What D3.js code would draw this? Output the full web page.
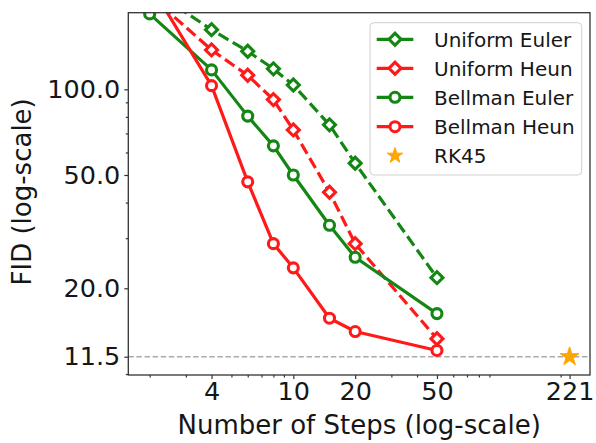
<!DOCTYPE html>
<html>
<head>
<meta charset="utf-8">
<script src="https://cdn.jsdelivr.net/npm/d3@7"></script>
<style>
  html, body { margin: 0; padding: 0; background: #fff; }
  svg { display: block; font-family: "DejaVu Sans", sans-serif; }
</style>
</head>
<body>
<svg id="chart" width="596" height="443"></svg>
<script>
// ---- data ----
const steps = [2, 4, 6, 8, 10, 15, 20, 50];
const uniformEuler = [226, 162, 136, 118, 103.5, 75, 55, 21.8];
const uniformHeun  = [214, 137.5, 112, 92, 72, 43.5, 28.7, 13.3];
const bellmanEuler = [184, 117, 80.5, 63.3, 50, 33.3, 25.7, 16.3];
const bellmanHeun  = [235, 103, 47.3, 28.7, 23.6, 15.7, 14.1, 12.1];
const rk45Steps = [221];
const rk45Fid = [11.5];
const seriesNames = ["Uniform Euler", "Uniform Heun", "Bellman Euler", "Bellman Heun", "RK45"];
const xTickValues = [4, 10, 20, 50, 221];
const xMinorTicks = [2, 3, 5, 6, 7, 8, 9, 30, 40, 60, 70, 80, 90, 200];
const yTickValues = [11.5, 20, 50, 100];
const yMinorTicks = [10, 30, 40, 60, 70, 80, 90];
const xLabel = "Number of Steps (log-scale)";
const yLabel = "FID (log-scale)";

// ---- layout ----
const L = 128.3, R = 590, T = 12.7, B = 375;
const GREEN = "#138613", RED = "#ff1a1a", ORANGE = "#ffa500";
const svg = d3.select("#chart");

const x = d3.scaleLog().domain([1.574, 277.8]).range([L, R]);
const y = d3.scaleLog().domain([9.92, 185.8]).range([B, T]);

svg.append("defs").append("clipPath").attr("id", "clip")
  .append("rect").attr("x", L).attr("y", T).attr("width", R - L).attr("height", B - T);

const textColor = "#161616";

// axes
const xAxis = svg.append("g").attr("transform", `translate(0,${B})`)
  .call(d3.axisBottom(x).tickValues(xTickValues).tickFormat(d3.format("d")).tickSize(4).tickPadding(3));
const xMinor = svg.append("g").attr("transform", `translate(0,${B})`)
  .call(d3.axisBottom(x).tickValues(xMinorTicks).tickFormat("").tickSize(2.5));
const yAxis = svg.append("g").attr("transform", `translate(${L},0)`)
  .call(d3.axisLeft(y).tickValues(yTickValues).tickFormat(d3.format(".1f")).tickSize(4).tickPadding(4));
const yMinor = svg.append("g").attr("transform", `translate(${L},0)`)
  .call(d3.axisLeft(y).tickValues(yMinorTicks).tickFormat("").tickSize(2.5));
[xAxis, xMinor, yAxis, yMinor].forEach(g => {
  g.select(".domain").remove();
  g.selectAll("line").attr("stroke", "#333").attr("stroke-width", 1.2);
  g.selectAll("text").attr("fill", textColor).style("font-size", "25.5px")
    .style("font-family", "'DejaVu Sans', sans-serif");
});

// reference line
const plot = svg.append("g").attr("clip-path", "url(#clip)");
plot.append("line")
  .attr("x1", L).attr("x2", R).attr("y1", y(rk45Fid[0])).attr("y2", y(rk45Fid[0]))
  .attr("stroke", "#aaaaaa").attr("stroke-width", 1.5).attr("stroke-dasharray", "5.5,2.6");

const series = [
  { name: seriesNames[0], vals: uniformEuler, color: GREEN, dash: "11.5,5", marker: "diamond" },
  { name: seriesNames[1], vals: uniformHeun,  color: RED,   dash: "11.5,5", marker: "diamond" },
  { name: seriesNames[2], vals: bellmanEuler, color: GREEN, dash: null, marker: "circle" },
  { name: seriesNames[3], vals: bellmanHeun,  color: RED,   dash: null, marker: "circle" }
];

const line = d3.line().x(d => x(d[0])).y(d => y(d[1]));
const diamond = d3.symbol().type(d3.symbolSquare).size(72);
function drawMarker(g, kind, cx, cy, color) {
  if (kind === "diamond") {
    g.append("path").attr("d", diamond())
      .attr("transform", `translate(${cx},${cy}) rotate(45)`)
      .attr("fill", "#fff").attr("stroke", color).attr("stroke-width", 3.1);
  } else {
    g.append("circle").attr("cx", cx).attr("cy", cy).attr("r", 5)
      .attr("fill", "#fff").attr("stroke", color).attr("stroke-width", 3.1);
  }
}

series.forEach(s => {
  const pts = steps.map((st, i) => [st, s.vals[i]]);
  plot.append("path").datum(pts).attr("d", line)
    .attr("fill", "none").attr("stroke", s.color).attr("stroke-width", 3.2)
    .attr("stroke-dasharray", s.dash).attr("stroke-linejoin", "round");
  const mg = plot.append("g");
  pts.forEach(p => drawMarker(mg, s.marker, x(p[0]), y(p[1]), s.color));
});

const star = d3.symbol().type(d3.symbolStar).size(110);
const legendStar = d3.symbol().type(d3.symbolStar).size(75);
rk45Steps.forEach((st, i) => {
  plot.append("path").attr("d", star())
    .attr("transform", `translate(${x(st)},${y(rk45Fid[i])})`)
    .attr("fill", ORANGE).attr("stroke", ORANGE).attr("stroke-width", 1);
});

// frame
svg.append("rect").attr("x", L).attr("y", T).attr("width", R - L).attr("height", B - T)
  .attr("fill", "none").attr("stroke", "#333").attr("stroke-width", 1.3);

// axis labels
svg.append("text").attr("x", (L + R) / 2).attr("y", 434)
  .attr("text-anchor", "middle").attr("fill", textColor).style("font-size", "26px").text(xLabel);
svg.append("text").attr("transform", `translate(31,${(T + B) / 2 - 2}) rotate(-90)`)
  .attr("text-anchor", "middle").attr("fill", textColor).style("font-size", "26px").text(yLabel);

// legend
const lg = svg.append("g");
lg.append("rect").attr("x", 370).attr("y", 22.7).attr("width", 211.7).attr("height", 152.3)
  .attr("rx", 4).attr("fill", "#fff").attr("fill-opacity", 0.85)
  .attr("stroke", "#d0d0d0").attr("stroke-width", 1);
const rowY = [39.3, 68.3, 97.3, 126.7, 155.7];
series.forEach((s, i) => {
  const yy = rowY[i];
  lg.append("line").attr("x1", 376.7).attr("x2", 413.3).attr("y1", yy).attr("y2", yy)
    .attr("stroke", s.color).attr("stroke-width", 3.2);
  drawMarker(lg, s.marker, 395, yy, s.color);
});
lg.append("path").attr("d", legendStar()).attr("transform", `translate(395,${rowY[4]})`)
  .attr("fill", ORANGE).attr("stroke", ORANGE).attr("stroke-width", 1);
seriesNames.forEach((n, i) => {
  lg.append("text").attr("x", 434).attr("y", rowY[i]).attr("dy", "0.36em")
    .attr("fill", textColor).style("font-size", "20px").text(n);
});
</script>
</body>
</html>
